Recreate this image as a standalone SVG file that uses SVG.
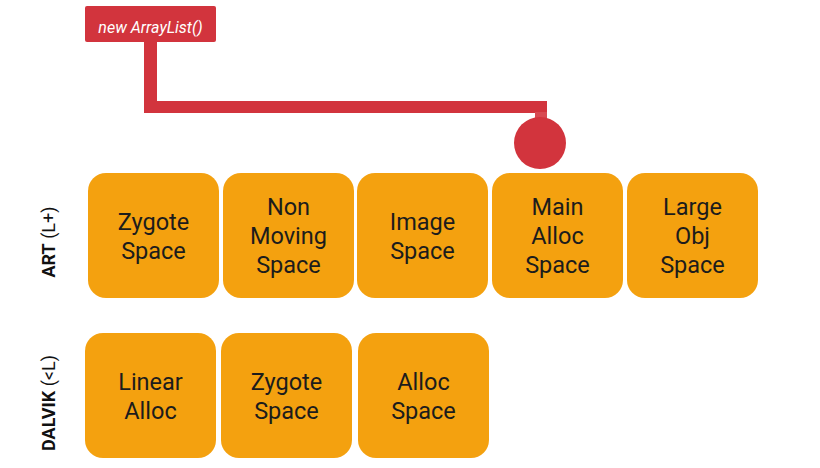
<svg xmlns="http://www.w3.org/2000/svg" width="820" height="468" viewBox="0 0 820 468">
<style>
.box{fill:#F4A10F;}
.t{font-family:Roboto,"Liberation Sans",sans-serif;font-size:23.5px;fill:#1c1c1c;text-anchor:middle;}
.side{font-family:Roboto,"Liberation Sans",sans-serif;font-size:18px;fill:#111;text-anchor:middle;}
.red{fill:#D2343D;}
</style>
<rect width="820" height="468" fill="#ffffff"/>
<g id="connectors">
<rect class="red" x="144" y="40" width="13" height="73"/>
<rect class="red" x="144" y="101" width="403" height="12"/>
<rect x="535" y="112" width="12" height="7" fill="#D84A52"/>
<circle class="red" cx="540" cy="143" r="26"/>
</g>
<g id="label-new-arraylist">
<rect class="red" x="85" y="6" width="131" height="36" rx="2"/>
<text x="150.5" y="32.5" font-family="Roboto,'Liberation Sans',sans-serif" font-size="16" font-style="italic" fill="#ffffff" text-anchor="middle">new ArrayList()</text>
</g>
<g id="label-art">
<text class="side" transform="translate(55,242) rotate(-90)"><tspan font-weight="bold">ART</tspan> (L+)</text>
</g>
<g id="label-dalvik">
<text class="side" transform="translate(55,403) rotate(-90)"><tspan font-weight="bold">DALVIK</tspan> (&lt;L)</text>
</g>
<g id="art-zygote-space">
<rect class="box" x="88" y="173" width="131" height="125" rx="18"/>
<text class="t" x="153.5" y="230">Zygote</text>
<text class="t" x="153.5" y="259">Space</text>
</g>
<g id="art-non-moving-space">
<rect class="box" x="223" y="173" width="131" height="125" rx="18"/>
<text class="t" x="288.5" y="214.5">Non</text>
<text class="t" x="288.5" y="243.5">Moving</text>
<text class="t" x="288.5" y="272.5">Space</text>
</g>
<g id="art-image-space">
<rect class="box" x="357" y="173" width="131" height="125" rx="18"/>
<text class="t" x="422.5" y="230">Image</text>
<text class="t" x="422.5" y="259">Space</text>
</g>
<g id="art-main-alloc-space">
<rect class="box" x="492" y="173" width="131" height="125" rx="18"/>
<text class="t" x="557.5" y="214.5">Main</text>
<text class="t" x="557.5" y="243.5">Alloc</text>
<text class="t" x="557.5" y="272.5">Space</text>
</g>
<g id="art-large-obj-space">
<rect class="box" x="627" y="173" width="131" height="125" rx="18"/>
<text class="t" x="692.5" y="214.5">Large</text>
<text class="t" x="692.5" y="243.5">Obj</text>
<text class="t" x="692.5" y="272.5">Space</text>
</g>
<g id="dalvik-linear-alloc">
<rect class="box" x="85" y="333" width="131" height="125" rx="18"/>
<text class="t" x="150.5" y="390">Linear</text>
<text class="t" x="150.5" y="419">Alloc</text>
</g>
<g id="dalvik-zygote-space">
<rect class="box" x="221" y="333" width="131" height="125" rx="18"/>
<text class="t" x="286.5" y="390">Zygote</text>
<text class="t" x="286.5" y="419">Space</text>
</g>
<g id="dalvik-alloc-space">
<rect class="box" x="358" y="333" width="131" height="125" rx="18"/>
<text class="t" x="423.5" y="390">Alloc</text>
<text class="t" x="423.5" y="419">Space</text>
</g>
</svg>
